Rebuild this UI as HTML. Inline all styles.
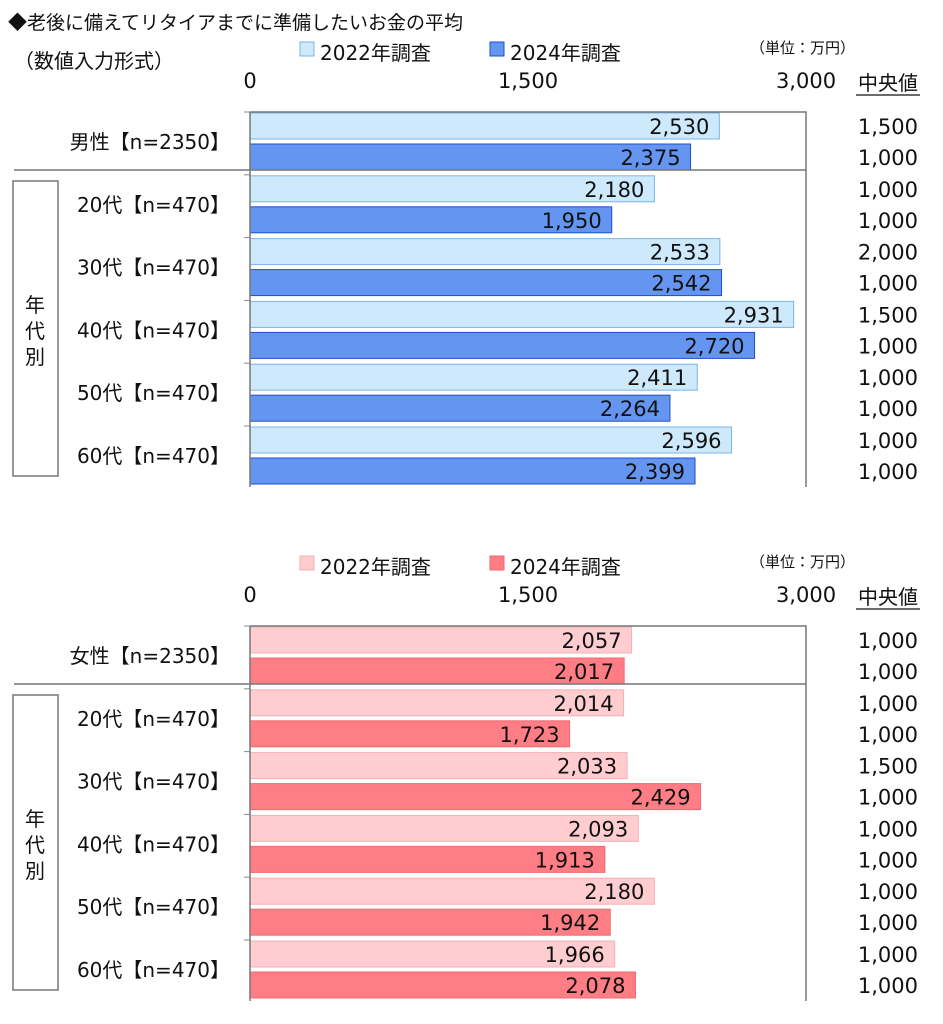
<!DOCTYPE html><html><head><meta charset="utf-8"><style>body{margin:0;background:#fff}svg{display:block}text{font-family:"DejaVu Sans","Noto Sans CJK JP",sans-serif;fill:#111}</style></head><body>
<svg width="943" height="1024" xmlns="http://www.w3.org/2000/svg" id="s"></svg>
<script>
const s=document.getElementById('s');let h='';
function T(x,y,t,sz,a){h+=`<text x="${x}" y="${y}" font-size="${sz||20}" text-anchor="${a||'start'}">${t}</text>`;}
h+=`<text x="8" y="29" font-size="19" style="font-family:'Liberation Sans','Noto Sans CJK JP',sans-serif">◆老後に備えてリタイアまでに準備したいお金の平均</text>`;
function chart(off,vals,meds,labs,c1,b1,c2,b2){
 h+=`<rect x="300" y="${off+42}" width="14" height="14" fill="${c1}" stroke="${b1}"/>`;T(320,off+60,'2022年調査',20);
 h+=`<rect x="490" y="${off+42}" width="14" height="14" fill="${c2}" stroke="${b2}"/>`;T(510,off+60,'2024年調査',20);
 T(750,off+53,'（単位：万円）',15);
 T(250,off+88,'0',21,'middle');T(528,off+88,'1,500',21,'middle');T(806,off+88,'3,000',21,'middle');
 T(888,off+90,'中央値',20,'middle');h+=`<line x1="856" y1="${off+95}" x2="920" y2="${off+95}" stroke="#111" stroke-width="1.3"/>`;
 for(let g=0;g<6;g++){const y=off+113+g*62.8;
  const w1=vals[g][0]*0.1855,w2=vals[g][1]*0.1855;
  h+=`<rect x="250" y="${y}" width="${w1}" height="26" fill="${c1}" stroke="${b1}"/>`;
  h+=`<rect x="250" y="${y+31}" width="${w2}" height="26" fill="${c2}" stroke="${b2}"/>`;
  T(250+w1-10,y+21,vals[g][0].toLocaleString('en'),21,'end');
  T(250+w2-10,y+52,vals[g][1].toLocaleString('en'),21,'end');
  T(918,y+21,meds[g][0],21,'end');T(918,y+52,meds[g][1],21,'end');
  T(230,y+36,labs[g],20,'end');
  h+=`<line x1="244" y1="${y-1}" x2="250" y2="${y-1}" stroke="#888"/>`;
 }
 h+=`<path d="M250 ${off+112}H806V${off+487}M250 ${off+112}V${off+487}" fill="none" stroke="#777" stroke-width="1.5"/>`;
 h+=`<line x1="14" y1="${off+170}" x2="806" y2="${off+170}" stroke="#777" stroke-width="1.5"/>`;
 h+=`<rect x="13" y="${off+181}" width="45" height="295" fill="none" stroke="#777" stroke-width="1.5"/>`;
 T(35,off+312,'年',20,'middle');T(35,off+338,'代',20,'middle');T(35,off+364,'別',20,'middle');
}
T(14,68,'（数値入力形式）',20);
chart(0,[[2530,2375],[2180,1950],[2533,2542],[2931,2720],[2411,2264],[2596,2399]],
[['1,500','1,000'],['1,000','1,000'],['2,000','1,000'],['1,500','1,000'],['1,000','1,000'],['1,000','1,000']],
['男性【n=2350】','20代【n=470】','30代【n=470】','40代【n=470】','50代【n=470】','60代【n=470】'],'#cde9fb','#7ab5e3','#6495f0','#1f4fc8');
chart(514,[[2057,2017],[2014,1723],[2033,2429],[2093,1913],[2180,1942],[1966,2078]],
[['1,000','1,000'],['1,000','1,000'],['1,500','1,000'],['1,000','1,000'],['1,000','1,000'],['1,000','1,000']],
['女性【n=2350】','20代【n=470】','30代【n=470】','40代【n=470】','50代【n=470】','60代【n=470】'],'#ffcdd0','#f3b0b4','#ff7d84','#f06a72');
s.innerHTML=h;
</script></body></html>
